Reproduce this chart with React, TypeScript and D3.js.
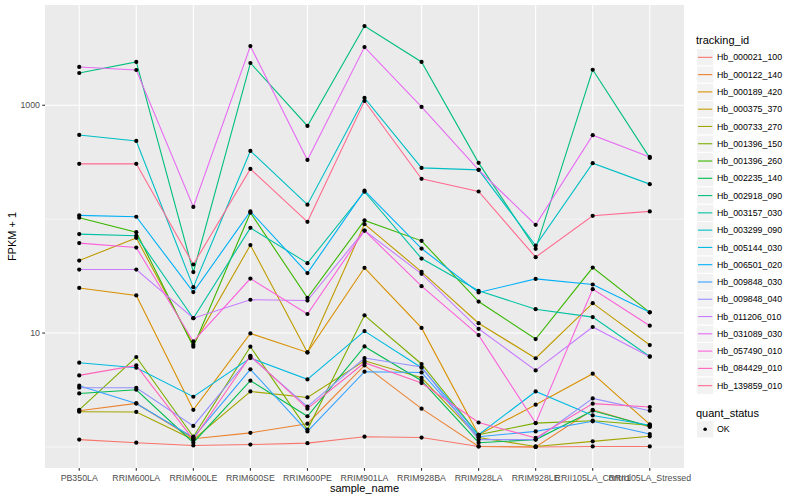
import React from "react";
import * as d3 from "d3";

// samples on the x axis
const categories = [
  "PB350LA",
  "RRIM600LA",
  "RRIM600LE",
  "RRIM600SE",
  "RRIM600PE",
  "RRIM901LA",
  "RRIM928BA",
  "RRIM928LA",
  "RRIM928LE",
  "RRII105LA_Control",
  "RRII105LA_Stressed",
];

// FPKM + 1, one array per gene, same order as categories
const hb000021_100 = [1.16, 1.09, 1.03, 1.05, 1.08, 1.23, 1.21, 1.01, 1.0, 1.01, 1.01];
const hb000122_140 = [2.08, 2.41, 1.18, 1.33, 1.6, 5.2, 2.17, 1.01, 1.0, 2.12, 1.5];
const hb000189_420 = [24.9, 21.4, 2.12, 9.92, 6.76, 37.4, 11.1, 1.28, 2.35, 4.4, 1.58];
const hb000375_370 = [43.3, 68.5, 7.89, 59.2, 6.76, 90.4, 34.5, 12.2, 6.01, 18.3, 7.85];
const hb000733_270 = [2.04, 2.03, 1.16, 3.07, 2.72, 5.71, 4.05, 1.21, 1.01, 1.12, 1.24];
const hb001396_150 = [2.12, 6.16, 1.23, 7.59, 1.42, 14.3, 5.35, 1.28, 1.62, 1.7, 1.55];
const hb001396_260 = [103, 76.9, 7.59, 114, 20.4, 97.6, 64.5, 18.9, 8.86, 37.6, 15.2];
const hb002235_140 = [2.95, 3.18, 1.09, 3.82, 1.86, 7.63, 3.82, 1.09, 1.16, 2.08, 1.52];
const hb002918_090 = [1920, 2400, 34.3, 2350, 658, 4960, 2400, 312, 54.9, 2050, 345];
const hb003157_030 = [73.9, 71.4, 13.5, 83.9, 41.1, 174, 45.1, 23.5, 16.2, 13.8, 6.23];
const hb003299_090 = [549, 486, 25.3, 397, 134, 1160, 282, 271, 58.7, 310, 203];
const hb005144_030 = [5.49, 4.96, 2.76, 6.03, 3.92, 10.4, 4.96, 1.28, 3.07, 1.89, 1.55];
const hb006501_020 = [108, 105, 22.9, 117, 33.6, 178, 55.2, 22.7, 29.9, 26.7, 15.2];
const hb009848_030 = [3.45, 2.41, 1.21, 4.8, 1.37, 4.58, 4.51, 1.23, 1.37, 1.68, 1.3];
const hb009848_040 = [3.31, 3.31, 1.53, 6.2, 2.26, 6.03, 5.03, 1.16, 1.16, 2.67, 2.08];
const hb011206_010 = [36.1, 36.1, 13.5, 19.6, 19.3, 79.4, 33.1, 10.9, 4.7, 11.3, 6.2];
const hb031089_030 = [2170, 2040, 128, 3310, 331, 3240, 966, 271, 89.1, 546, 352];
const hb057490_010 = [61.6, 56.3, 8.44, 30.1, 14.7, 79.4, 25.8, 9.6, 1.62, 24.3, 11.6];
const hb084429_010 = [4.25, 5.2, 1.16, 6.32, 2.17, 5.49, 3.64, 1.64, 1.2, 2.4, 2.24];
const hb139859_010 = [306, 306, 40.0, 276, 94.7, 1090, 226, 175, 46.4, 107, 117];

const trackingIds = [
  "Hb_000021_100",
  "Hb_000122_140",
  "Hb_000189_420",
  "Hb_000375_370",
  "Hb_000733_270",
  "Hb_001396_150",
  "Hb_001396_260",
  "Hb_002235_140",
  "Hb_002918_090",
  "Hb_003157_030",
  "Hb_003299_090",
  "Hb_005144_030",
  "Hb_006501_020",
  "Hb_009848_030",
  "Hb_009848_040",
  "Hb_011206_010",
  "Hb_031089_030",
  "Hb_057490_010",
  "Hb_084429_010",
  "Hb_139859_010",
];

const seriesValues = [
  hb000021_100, hb000122_140, hb000189_420, hb000375_370, hb000733_270,
  hb001396_150, hb001396_260, hb002235_140, hb002918_090, hb003157_030,
  hb003299_090, hb005144_030, hb006501_020, hb009848_030, hb009848_040,
  hb011206_010, hb031089_030, hb057490_010, hb084429_010, hb139859_010,
];

const majorBreaks = [10, 1000];
const minorBreaks = [1, 100, 10000];
const quantStatus = ["OK"];

// ggplot default hue palette for 20 levels
const palette = [
  "#F8766D", "#EA8331", "#D89000", "#C09B00", "#A3A500",
  "#7CAE00", "#39B600", "#00BB4E", "#00BF7D", "#00C1A3",
  "#00BFC4", "#00BAE0", "#00B0F6", "#35A2FF", "#9590FF",
  "#C77CFF", "#E76BF3", "#FA62DB", "#FF62BC", "#FF6C91",
];

const W = 800;
const H = 500;
const margin = { left: 45, right: 116, top: 5, bottom: 32 };
const FONT = "'Liberation Sans', Arial, Helvetica, sans-serif";

const App: React.FC = () => {
  const x0 = margin.left;
  const x1 = W - margin.right;
  const y0 = margin.top;
  const y1 = H - margin.bottom;

  const x = d3.scalePoint<string>().domain(categories).range([x0, x1]).padding(0.6);

  // log scale with ggplot-style 5% expansion in log space
  const all = seriesValues.flat();
  const lmin = Math.log10(d3.min(all) as number);
  const lmax = Math.log10(d3.max(all) as number);
  const pad = (lmax - lmin) * 0.05;
  const y = d3
    .scaleLog()
    .domain([Math.pow(10, lmin - pad), Math.pow(10, lmax + pad)])
    .range([y1, y0]);
  const [dLo, dHi] = y.domain();

  const line = d3
    .line<number>()
    .x((_, i) => x(categories[i]) as number)
    .y(v => y(v));

  const legendX = 696;
  const keyH = 17.28;
  const keyTop = 48.7;
  const qsTitleY = keyTop + trackingIds.length * keyH + 19;

  return (
    <svg
      width={W}
      height={H}
      style={{ position: "absolute", left: 0, top: 0, background: "#fff" }}
      fontFamily={FONT}
    >
      <rect x={x0} y={y0} width={x1 - x0} height={y1 - y0} fill="#EBEBEB" />

      {/* grid */}
      {minorBreaks
        .filter(b => b >= dLo && b <= dHi)
        .map(b => (
          <line key={"mi" + b} x1={x0} x2={x1} y1={y(b)} y2={y(b)} stroke="#fff" strokeWidth={0.55} />
        ))}
      {majorBreaks.map(b => (
        <line key={"ma" + b} x1={x0} x2={x1} y1={y(b)} y2={y(b)} stroke="#fff" strokeWidth={1.1} />
      ))}
      {categories.map(c => (
        <line key={"v" + c} x1={x(c)} x2={x(c)} y1={y0} y2={y1} stroke="#fff" strokeWidth={1.1} />
      ))}

      {/* lines */}
      {seriesValues.map((vals, i) => (
        <path key={trackingIds[i]} d={line(vals) as string} fill="none" stroke={palette[i]} strokeWidth={1.1} />
      ))}

      {/* points */}
      {seriesValues.map((vals, i) =>
        vals.map((v, j) => (
          <circle key={trackingIds[i] + j} cx={x(categories[j])} cy={y(v)} r={2.1} fill="#000" />
        ))
      )}

      {/* y axis */}
      {majorBreaks.map(b => (
        <g key={"yt" + b}>
          <line x1={x0 - 2.75} x2={x0} y1={y(b)} y2={y(b)} stroke="#333" strokeWidth={1.1} />
          <text x={x0 - 5} y={y(b)} dy="0.35em" textAnchor="end" fontSize={8.8} fill="#4D4D4D">
            {b}
          </text>
        </g>
      ))}
      <text
        transform={`translate(${12},${(y0 + y1) / 2}) rotate(-90)`}
        textAnchor="middle"
        dy="0.35em"
        fontSize={11}
        fill="#000"
      >
        FPKM + 1
      </text>

      {/* x axis */}
      {categories.map(c => (
        <g key={"xt" + c}>
          <line x1={x(c)} x2={x(c)} y1={y1} y2={y1 + 2.75} stroke="#333" strokeWidth={1.1} />
          <text x={x(c)} y={y1 + 10} dy="0.35em" textAnchor="middle" fontSize={8.8} fill="#4D4D4D">
            {c}
          </text>
        </g>
      ))}
      <text x={(x0 + x1) / 2} y={y1 + 20.5} dy="0.35em" textAnchor="middle" fontSize={11} fill="#000">
        sample_name
      </text>

      {/* legend: tracking_id */}
      <text x={legendX} y={40} dy="0.35em" fontSize={11} fill="#000">
        tracking_id
      </text>
      {trackingIds.map((id, i) => {
        const cy = keyTop + i * keyH + keyH / 2;
        return (
          <g key={"lg" + id}>
            <rect x={legendX + 0.5} y={cy - keyH / 2} width={keyH} height={keyH} fill="#F2F2F2" stroke="#fff" />
            <line x1={legendX + 2} x2={legendX + keyH - 1} y1={cy} y2={cy} stroke={palette[i]} strokeWidth={1.1} />
            <text x={legendX + 21} y={cy} dy="0.35em" fontSize={8.8} fill="#000">
              {id}
            </text>
          </g>
        );
      })}

      {/* legend: quant_status */}
      <text x={legendX} y={qsTitleY} dy="0.35em" fontSize={11} fill="#000">
        quant_status
      </text>
      {quantStatus.map((s, i) => {
        const cy = qsTitleY + 16 + i * keyH;
        return (
          <g key={"qs" + s}>
            <rect x={legendX + 0.5} y={cy - keyH / 2} width={keyH} height={keyH} fill="#F2F2F2" stroke="#fff" />
            <circle cx={legendX + 0.5 + keyH / 2} cy={cy} r={1.8} fill="#000" />
            <text x={legendX + 21} y={cy} dy="0.35em" fontSize={8.8} fill="#000">
              {s}
            </text>
          </g>
        );
      })}
    </svg>
  );
};

export default App;
